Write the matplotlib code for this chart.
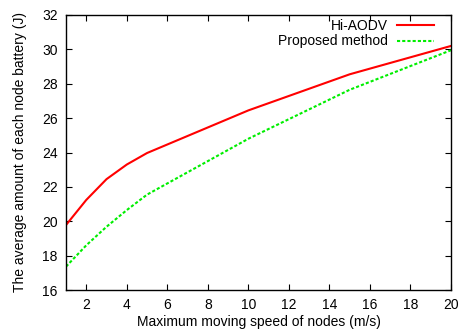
import matplotlib
matplotlib.use("Agg")
import matplotlib.pyplot as plt

speed = [1, 2, 3, 4, 5, 10, 15, 20]
hi_aodv = [19.78, 21.24, 22.45, 23.3, 23.97, 26.45, 28.55, 30.2]
proposed = [17.36, 18.6, 19.68, 20.65, 21.55, 24.8, 27.65, 29.95]
xticks = [2, 4, 6, 8, 10, 12, 14, 16, 18, 20]
yticks = [16, 18, 20, 22, 24, 26, 28, 30, 32]

plt.rcParams['font.family'] = ['Liberation Sans', 'DejaVu Sans']
plt.rcParams['font.size'] = 10

fig = plt.figure(figsize=(4.62, 3.33), dpi=100)
ax = fig.add_axes([66/462, 1-290/333, (451-66)/462, (290-15)/333])
ax.plot(speed, hi_aodv, color='#ff0000', lw=1.5, label='Hi-AODV')
ax.plot(speed, proposed, color='#00ee00', lw=1.5, ls=(0, (1.5, 1)), label='Proposed method')
ax.set_xlim(1, 20)
ax.set_ylim(16, 32)
ax.set_xticks(xticks)
ax.set_yticks(yticks)
ax.tick_params(direction='in', top=True, right=True, length=4, width=0.8, labelsize=10, pad=6)
for s in ax.spines.values():
    s.set_linewidth(1.0)
ax.set_xlabel('Maximum moving speed of nodes (m/s)', fontsize=10, labelpad=2)
ax.set_ylabel('The average amount of each node battery (J)', fontsize=10, labelpad=11)
leg = ax.legend(loc='upper right', frameon=False, markerfirst=False, handlelength=2.7,
                handletextpad=0.6, borderpad=0, borderaxespad=0,
                bbox_to_anchor=(1 - 17/385, 1 - 4/275),
                labelspacing=0.1, fontsize=10)
for t in leg.get_texts():
    t.set_ha('right')
fig.savefig('out.png', dpi=100)
